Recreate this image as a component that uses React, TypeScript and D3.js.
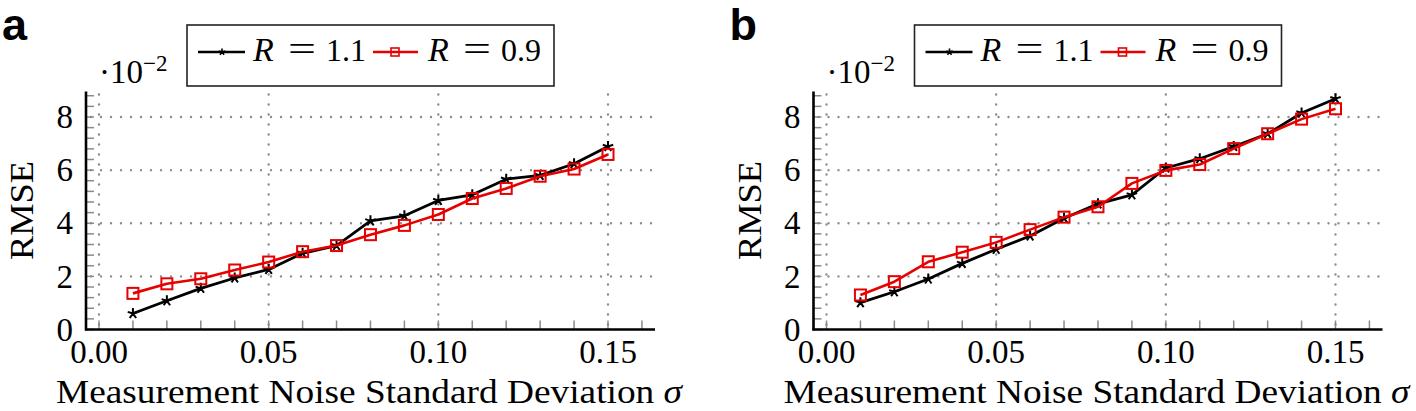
import React from "react";
import * as d3 from "d3";

// ---- data ----
const sigma = [0.01, 0.02, 0.03, 0.04, 0.05, 0.06, 0.07, 0.08, 0.09, 0.1, 0.11, 0.12, 0.13, 0.14, 0.15];
const panelA_R11 = [0.6, 1.08, 1.55, 1.94, 2.26, 2.87, 3.16, 4.09, 4.28, 4.86, 5.07, 5.66, 5.8, 6.24, 6.89];
const panelA_R09 = [1.36, 1.72, 1.91, 2.24, 2.54, 2.93, 3.16, 3.57, 3.92, 4.33, 4.93, 5.31, 5.77, 6.04, 6.59];
const panelB_R11 = [1.01, 1.42, 1.9, 2.49, 3.02, 3.52, 4.19, 4.73, 5.07, 6.08, 6.43, 6.89, 7.37, 8.15, 8.69];
const panelB_R09 = [1.3, 1.8, 2.55, 2.91, 3.28, 3.76, 4.23, 4.62, 5.5, 5.99, 6.21, 6.81, 7.37, 7.92, 8.31];
const xMajorTicks = [0, 0.05, 0.1, 0.15];
const yMajorTicks = [0, 2, 4, 6, 8];
const seriesNames = ["1.1", "0.9"];
const panelLetters = ["a", "b"];

// ---- layout ----
const W = 1416;
const H = 411;
const PANEL_DX = 727.5;
const AX_LEFT = 86;
const AX_RIGHT = 655;
const AX_BOTTOM = 329.5;
const AX_TOP = 91.5;
const SERIF = "'Liberation Serif', 'Times New Roman', serif";
const SANS = "'Liberation Sans', Arial, sans-serif";
const RED = "#e60000";
const GRID = "#8c8c8c";
const TICK = "#8a8a8a";

const x = d3.scaleLinear().domain([0, 0.15]).range([99, 608]);
const y = d3.scaleLinear().domain([0, 8]).range([AX_BOTTOM, 117]);
const xMinor = d3.range(0, 0.1605, 0.01);
const yMinor = d3.range(0, 8.81, 0.4);

function starPath(cx: number, cy: number, r: number) {
  let p = "";
  for (let k = 0; k < 5; k++) {
    const a = Math.PI / 2 + (k * 2 * Math.PI) / 5;
    p += `M${cx},${cy}L${cx + r * Math.cos(a)},${cy - r * Math.sin(a)}`;
  }
  return p;
}

function LegendLabel({ x0, value }: { x0: number; value: string }) {
  return (
    <g fontFamily={SERIF} fontSize={34} fill="#000">
      <text x={x0} y={61} fontStyle="italic">
        R
      </text>
      <text x={x0 + 35} y={61} fontSize={35} textLength={28} lengthAdjust="spacingAndGlyphs">
        =
      </text>
      <text x={x0 + 73} y={61} fontSize={32}>
        {value}
      </text>
    </g>
  );
}

function Panel({ dx, letter, s1, s2 }: { dx: number; letter: string; s1: number[]; s2: number[] }) {
  const line = d3
    .line<number>()
    .x((_, i) => x(sigma[i]))
    .y((d) => y(d));
  return (
    <g transform={`translate(${dx},0)`}>
      {/* panel letter */}
      <text x={2} y={40} fontFamily={SANS} fontWeight="bold" fontSize={45} fill="#000">
        {letter}
      </text>

      {/* grid */}
      {yMajorTicks
        .filter((t) => t > 0)
        .map((t) => (
          <line
            key={"gy" + t}
            x1={AX_LEFT + 5}
            x2={AX_RIGHT}
            y1={y(t)}
            y2={y(t)}
            stroke={GRID}
            strokeWidth={2.4}
            strokeDasharray="0 10"
            strokeLinecap="round"
          />
        ))}
      {xMajorTicks.map((t) => (
        <line
          key={"gx" + t}
          x1={x(t)}
          x2={x(t)}
          y1={AX_BOTTOM - 5}
          y2={AX_TOP}
          stroke={GRID}
          strokeWidth={2.4}
          strokeDasharray="0 10"
          strokeLinecap="round"
        />
      ))}

      {/* ticks */}
      {xMinor.map((t, i) => (
        <line key={"tx" + i} x1={x(t)} x2={x(t)} y1={AX_BOTTOM} y2={AX_BOTTOM - 9} stroke={TICK} strokeWidth={1.5} />
      ))}
      {yMinor.map((t, i) => (
        <line key={"ty" + i} x1={AX_LEFT} x2={AX_LEFT + 8} y1={y(t)} y2={y(t)} stroke={TICK} strokeWidth={1.5} />
      ))}

      {/* axes */}
      <line x1={AX_LEFT} x2={AX_LEFT} y1={AX_TOP} y2={AX_BOTTOM + 1} stroke="#000" strokeWidth={2.6} />
      <line x1={AX_LEFT - 1} x2={AX_RIGHT} y1={AX_BOTTOM} y2={AX_BOTTOM} stroke="#000" strokeWidth={2.6} />

      {/* tick labels */}
      {xMajorTicks.map((t) => (
        <text key={"lx" + t} x={x(t)} y={363} textAnchor="middle" fontFamily={SERIF} fontSize={33} fill="#000">
          {d3.format(".2f")(t)}
        </text>
      ))}
      {yMajorTicks.map((t) => (
        <text
          key={"ly" + t}
          x={73}
          y={y(t)}
          dy="0.34em"
          textAnchor="end"
          fontFamily={SERIF}
          fontSize={33}
          fill="#000"
        >
          {t}
        </text>
      ))}

      {/* exponent */}
      <text x={99} y={83} fontFamily={SERIF} fontSize={33} fill="#000">
        ·10
        <tspan dy={-12} fontSize={23}>
          −2
        </tspan>
      </text>

      {/* axis labels */}
      <text
        x={369}
        y={403}
        textAnchor="middle"
        fontFamily={SERIF}
        fontSize={34}
        fill="#000"
        textLength={626}
        lengthAdjust="spacingAndGlyphs"
      >
        Measurement Noise Standard Deviation <tspan fontStyle="italic">σ</tspan>
      </text>
      <text
        transform={`translate(33,${(AX_TOP + AX_BOTTOM) / 2}) rotate(-90)`}
        textAnchor="middle"
        fontFamily={SERIF}
        fontSize={34}
        fill="#000"
        textLength={99}
        lengthAdjust="spacingAndGlyphs"
      >
        RMSE
      </text>

      {/* series */}
      <path d={line(s1) || ""} fill="none" stroke="#000" strokeWidth={2.8} strokeLinejoin="round" />
      {s1.map((v, i) => (
        <path key={"m1" + i} d={starPath(x(sigma[i]), y(v), 5.5)} stroke="#000" strokeWidth={2} fill="none" />
      ))}
      <path d={line(s2) || ""} fill="none" stroke={RED} strokeWidth={2.6} strokeLinejoin="round" />
      {s2.map((v, i) => (
        <rect
          key={"m2" + i}
          x={x(sigma[i]) - 5.5}
          y={y(v) - 5.5}
          width={11}
          height={11}
          fill="none"
          stroke={RED}
          strokeWidth={2}
        />
      ))}

      {/* legend */}
      <rect x={187} y={25} width={367} height={61} fill="#fff" stroke="#222" strokeWidth={1.6} />
      <line x1={198} x2={245} y1={52} y2={52} stroke="#000" strokeWidth={2.4} />
      <path d={starPath(222, 52, 3.5)} stroke="#000" strokeWidth={1.6} fill="none" />
      <LegendLabel x0={253} value={seriesNames[0]} />
      <line x1={373} x2={418} y1={52} y2={52} stroke={RED} strokeWidth={2.4} />
      <rect x={391} y={48} width={8} height={8} fill="none" stroke={RED} strokeWidth={1.6} />
      <LegendLabel x0={428} value={seriesNames[1]} />
    </g>
  );
}

export default function App() {
  return (
    <svg
      width={W}
      height={H}
      viewBox={`0 0 ${W} ${H}`}
      style={{ position: "absolute", left: 0, top: 0, background: "#fff" }}
    >
      <rect x={0} y={0} width={W} height={H} fill="#fff" />
      <Panel dx={0} letter={panelLetters[0]} s1={panelA_R11} s2={panelA_R09} />
      <Panel dx={PANEL_DX} letter={panelLetters[1]} s1={panelB_R11} s2={panelB_R09} />
    </svg>
  );
}
